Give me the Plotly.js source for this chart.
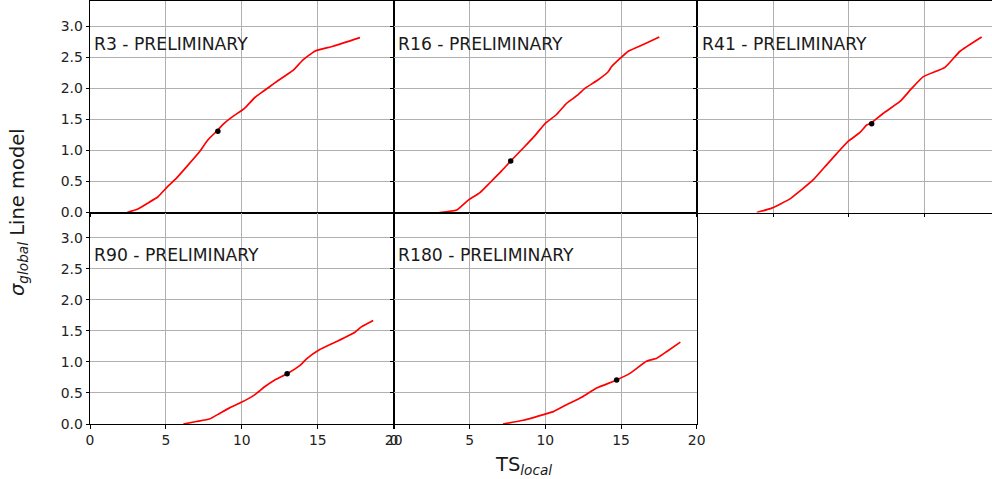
<!DOCTYPE html>
<html>
<head>
<meta charset="utf-8">
<script src="https://cdn.plot.ly/plotly-3.0.1.min.js"></script>
<style>html,body{margin:0;padding:0;background:#fff;}#chart{width:992px;height:479px;}</style>
</head>
<body>
<div id="chart"></div>
<script>
// Panel names
const panelNames = ["R3", "R16", "R41", "R90", "R180"];

// R3
const r3_ts    = [2.45, 3.15, 3.8, 4.46, 5.0, 5.68, 6.44, 7.21, 7.76, 8.42, 8.71, 9.41, 10.18, 10.84, 11.39, 12.17, 12.83, 13.37, 14.03, 14.8, 16.0, 17.78];
const r3_sigma = [0.0, 0.055, 0.15, 0.25, 0.39, 0.55, 0.76, 0.98, 1.17, 1.33, 1.41, 1.55, 1.68, 1.85, 1.95, 2.09, 2.2, 2.29, 2.46, 2.6, 2.68, 2.82];
const r3_dot   = [8.42, 1.31];

// R16
const r16_ts    = [3.0, 4.14, 4.91, 5.68, 6.34, 7.11, 7.71, 8.54, 9.31, 9.97, 10.74, 11.4, 12.17, 12.61, 13.49, 14.15, 14.37, 15.48, 16.58, 17.53];
const r16_sigma = [0.0, 0.04, 0.2, 0.32, 0.48, 0.67, 0.83, 1.04, 1.24, 1.43, 1.58, 1.76, 1.9, 2.0, 2.14, 2.27, 2.35, 2.6, 2.72, 2.83];
const r16_dot   = [7.71, 0.83];

// R41
const r41_ts    = [3.92, 4.91, 6.12, 6.89, 7.66, 8.43, 9.2, 9.97, 10.74, 11.18, 11.51, 12.28, 13.38, 14.15, 14.92, 16.35, 17.34, 18.77];
const r41_sigma = [0.0, 0.07, 0.22, 0.37, 0.53, 0.74, 0.95, 1.15, 1.29, 1.41, 1.45, 1.6, 1.79, 2.0, 2.19, 2.34, 2.6, 2.83];
const r41_dot   = [11.51, 1.43];

// R90
const r90_ts    = [6.15, 7.0, 7.87, 8.53, 9.19, 9.97, 10.84, 11.5, 12.17, 12.98, 13.81, 14.26, 15.13, 16.24, 17.45, 17.89, 18.65];
const r90_sigma = [0.0, 0.04, 0.08, 0.17, 0.26, 0.35, 0.47, 0.6, 0.71, 0.81, 0.94, 1.05, 1.2, 1.33, 1.48, 1.57, 1.67];
const r90_dot   = [12.98, 0.81];

// R180
const r180_ts    = [7.2, 8.54, 9.43, 10.53, 11.4, 12.4, 13.39, 14.71, 15.61, 16.68, 17.36, 18.03, 18.92];
const r180_sigma = [0.0, 0.06, 0.12, 0.2, 0.31, 0.43, 0.58, 0.71, 0.82, 1.01, 1.06, 1.17, 1.32];
const r180_dot   = [14.71, 0.71];

// Tick labels
const xTicks = [0, 5, 10, 15, 20];
const xTickText = ["0", "5", "10", "15", "20"];
const yTicks = [0, 0.5, 1.0, 1.5, 2.0, 2.5, 3.0];
const yTickText = ["0.0", "0.5", "1.0", "1.5", "2.0", "2.5", "3.0"];

const series = [
  [r3_ts, r3_sigma, r3_dot],
  [r16_ts, r16_sigma, r16_dot],
  [r41_ts, r41_sigma, r41_dot],
  [r90_ts, r90_sigma, r90_dot],
  [r180_ts, r180_sigma, r180_dot]
];

const FONT = "DejaVu Sans, Liberation Sans, sans-serif";
const traces = [];
const annotations = [];
series.forEach((s, i) => {
  const xa = "x" + (i === 0 ? "" : i + 1);
  const ya = "y" + (i === 0 ? "" : i + 1);
  traces.push({x: s[0], y: s[1], xaxis: xa, yaxis: ya, type: "scatter", mode: "lines",
    line: {color: "#ff0000", width: 1.7, shape: "spline", smoothing: 0.4}, hoverinfo: "skip", showlegend: false});
  traces.push({x: [s[2][0]], y: [s[2][1]], xaxis: xa, yaxis: ya, type: "scatter", mode: "markers",
    marker: {color: "#000000", size: 5.5}, hoverinfo: "skip", showlegend: false});
  annotations.push({text: panelNames[i] + " - PRELIMINARY", xref: xa, yref: ya, x: 0.15, y: 2.72,
    xanchor: "left", yanchor: "middle", showarrow: false, font: {family: FONT, size: 17.2, color: "#1a1a1a"}});
});

const plotW = 902, plotH = 423, L = 90;
function px2fx(p) { return (p - L) / plotW; }
const colDom = [[0, px2fx(393.7)], [px2fx(394), px2fx(696.7)], [px2fx(697.3), 1]];
const col3Max = (992 - 697.3) / 15.15;
const rowDom = [[0.5, 1], [0, 0.5]];
const yMax = 3.41;

function xAxis(col, row, anchor) {
  return {
    domain: colDom[col], anchor: anchor, range: [0, col === 2 ? col3Max : 20],
    tickvals: xTicks, ticktext: xTickText, showticklabels: row === 1,
    ticks: "outside", ticklen: 3.5, tickwidth: 1, tickcolor: "#000",
    showgrid: true, gridcolor: "#b0b0b0", gridwidth: 1, zeroline: false,
    showline: true, linecolor: "#000", linewidth: 1, mirror: true,
    tickfont: {family: FONT, size: 13.9, color: "#222"}, fixedrange: true
  };
}
function yAxis(col, row, anchor) {
  return {
    domain: rowDom[row], anchor: anchor, range: [0, yMax],
    tickvals: yTicks, ticktext: yTickText, showticklabels: col === 0,
    ticks: "outside", ticklen: 3.5, tickwidth: 1, tickcolor: "#000",
    showgrid: true, gridcolor: "#b0b0b0", gridwidth: 1, zeroline: false,
    showline: true, linecolor: "#000", linewidth: 1, mirror: col !== 2,
    tickfont: {family: FONT, size: 13.9, color: "#222"}, fixedrange: true
  };
}

annotations.push({text: "TS<sub><i>local</i></sub>", xref: "paper", yref: "paper",
  x: px2fx(523), y: (424 - 465) / plotH, xanchor: "center", yanchor: "middle", showarrow: false,
  font: {family: FONT, size: 19.5, color: "#1a1a1a"}});
annotations.push({text: "<i>σ</i><sub><i>global</i></sub> Line model", xref: "paper", yref: "paper",
  x: px2fx(18), y: (424 - 212) / plotH, xanchor: "center", yanchor: "middle", textangle: -90, showarrow: false,
  font: {family: FONT, size: 19.5, color: "#1a1a1a"}});

const layout = {
  width: 992, height: 479,
  margin: {l: L, r: 0, t: 1, b: 55, pad: 0},
  paper_bgcolor: "#fff", plot_bgcolor: "#fff",
  showlegend: false,
  xaxis: xAxis(0, 0, "y"), yaxis: yAxis(0, 0, "x"),
  xaxis2: xAxis(1, 0, "y2"), yaxis2: yAxis(1, 0, "x2"),
  xaxis3: xAxis(2, 0, "y3"), yaxis3: yAxis(2, 0, "x3"),
  xaxis4: xAxis(0, 1, "y4"), yaxis4: yAxis(0, 1, "x4"),
  xaxis5: xAxis(1, 1, "y5"), yaxis5: yAxis(1, 1, "x5"),
  annotations: annotations
};

Plotly.newPlot("chart", traces, layout, {staticPlot: true, displayModeBar: false});
</script>
</body>
</html>
